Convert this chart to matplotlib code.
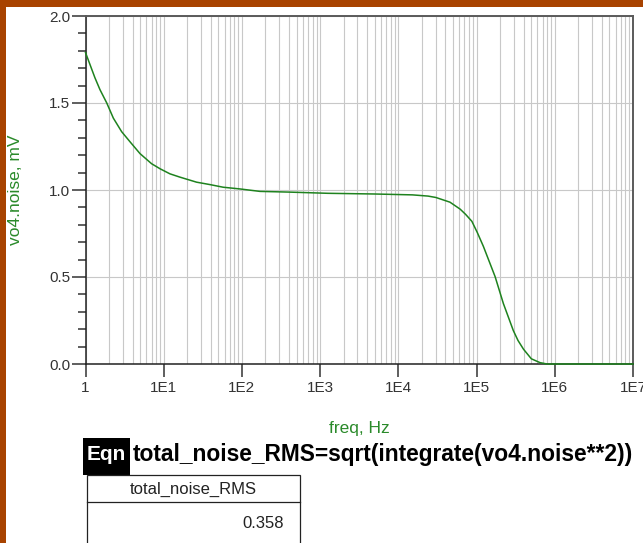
import matplotlib
matplotlib.use('Agg')
import matplotlib.pyplot as plt
from matplotlib.patches import Rectangle
from matplotlib.lines import Line2D
from matplotlib.ticker import FixedLocator, LogLocator, MultipleLocator, NullFormatter
from matplotlib import font_manager

# ---- data ----
freq_hz = [1, 1.32, 1.53, 1.87, 2.27, 2.9, 3.71, 4.98, 7.0, 8.98, 12.0, 16.1, 26.3,
           39.1, 57.5, 94.6, 170, 398, 1259, 5012, 15136, 23988, 30200, 45700,
           61660, 72400, 87100, 102300, 122200, 172600, 220300, 295100, 338800,
           398100, 501000, 645700, 794000, 1e7]
noise_mv = [1.79, 1.645, 1.577, 1.50, 1.413, 1.335, 1.277, 1.209, 1.151, 1.122,
            1.093, 1.074, 1.045, 1.031, 1.016, 1.006, 0.992, 0.988, 0.981, 0.977,
            0.972, 0.965, 0.957, 0.93, 0.89, 0.86, 0.82, 0.755, 0.676, 0.502,
            0.347, 0.192, 0.135, 0.085, 0.03, 0.008, 0.0, 0.0]
x_tick_values = [1, 1e1, 1e2, 1e3, 1e4, 1e5, 1e6, 1e7]
x_tick_labels = ["1", "1E1", "1E2", "1E3", "1E4", "1E5", "1E6", "1E7"]
y_tick_values = [0.0, 0.5, 1.0, 1.5, 2.0]
y_tick_labels = ["0.0", "0.5", "1.0", "1.5", "2.0"]
eqn_text = "total_noise_RMS=sqrt(integrate(vo4.noise**2))"
table_header = "total_noise_RMS"
table_value = "0.358"

W, H = 643, 543
fig = plt.figure(figsize=(W / 100, H / 100), dpi=100)
fig.patch.set_facecolor('white')

def fx(px):
    return px / W

def fy(py):
    return 1 - py / H

names = {f.name for f in font_manager.fontManager.ttflist}
base_font = 'Liberation Sans' if 'Liberation Sans' in names else 'DejaVu Sans'
narrow_font = 'Liberation Sans Narrow' if 'Liberation Sans Narrow' in names else base_font
plt.rcParams['font.family'] = [base_font, 'DejaVu Sans']

# orange border (left and top)
border = '#A84300'
fig.patches.append(Rectangle((0, 0), fx(6), 1, transform=fig.transFigure,
                             facecolor=border, edgecolor='none', zorder=0))
fig.patches.append(Rectangle((0, fy(7)), 1, 7 / H, transform=fig.transFigure,
                             facecolor=border, edgecolor='none', zorder=0))

green = '#1E821E'
label_green = '#2A8A2A'
tick_col = '#333333'

ax = fig.add_axes([fx(85.5), fy(364), fx(633) - fx(85.5), fy(16) - fy(364)])
ax.set_xscale('log')
ax.plot(freq_hz, noise_mv, color=green, lw=1.1, clip_on=False, zorder=5)
ax.set_xlim(1, 1e7)
ax.set_ylim(0, 2)

ax.xaxis.set_major_locator(FixedLocator(x_tick_values))
ax.set_xticklabels(x_tick_labels)
ax.xaxis.set_minor_locator(LogLocator(base=10, subs=range(2, 10), numticks=50))
ax.xaxis.set_minor_formatter(NullFormatter())
ax.yaxis.set_major_locator(FixedLocator(y_tick_values))
ax.set_yticklabels(y_tick_labels)
ax.yaxis.set_minor_locator(MultipleLocator(0.1))

ax.tick_params(axis='x', which='major', direction='out', length=9.5, width=1.1,
               color=tick_col, labelsize=11, labelcolor=tick_col, pad=3)
ax.tick_params(axis='x', which='minor', length=0)
ax.tick_params(axis='y', which='major', direction='out', length=10, width=1.1,
               color=tick_col, labelsize=11, labelcolor=tick_col, pad=1)
ax.tick_params(axis='y', which='minor', direction='out', length=5.8, width=1.1,
               color=tick_col)

ax.grid(True, which='both', axis='x', color='#C8C8C8', lw=0.8)
ax.grid(True, which='major', axis='y', color='#C8C8C8', lw=0.8)
ax.set_axisbelow(True)

for s in ['left', 'bottom']:
    ax.spines[s].set_color('#222222')
    ax.spines[s].set_linewidth(1.1)
for s in ['top', 'right']:
    ax.spines[s].set_color('#5A5A5A')
    ax.spines[s].set_linewidth(1.4)

# axis labels
fig.text(fx(16), fy(190), "vo4.noise, mV", rotation=90, color=label_green,
         fontsize=12.5, ha='center', va='center')
fig.text(fx(359), fy(428), "freq, Hz", color=label_green, fontsize=12.5,
         ha='center', va='center')

# Eqn box
fig.patches.append(Rectangle((fx(83), fy(475)), fx(130) - fx(83), (475 - 438) / H,
                             transform=fig.transFigure, facecolor='black',
                             edgecolor='none'))
fig.text(fx(106.5), fy(455), "Eqn", color='white', fontweight='bold',
         fontsize=15, ha='center', va='center', family=[narrow_font, 'DejaVu Sans'])

t = fig.text(fx(133), fy(455), eqn_text, color='black', fontweight='bold',
             fontsize=15, ha='left', va='center', family=[narrow_font, 'DejaVu Sans'])
fig.canvas.draw()
r = fig.canvas.get_renderer()
wpx = t.get_window_extent(r).width
t.set_fontsize(15 * 503 / wpx)

# table
fig.patches.append(Rectangle((fx(87), fy(560)), fx(300) - fx(87), (560 - 475) / H,
                             transform=fig.transFigure, facecolor='none',
                             edgecolor='#222222', lw=0.9))
fig.lines.append(Line2D([fx(87), fx(300)], [fy(502), fy(502)],
                        transform=fig.transFigure, color='#222222', lw=0.9))
fig.text(fx(193.5), fy(489), table_header, color='#222222', fontsize=12,
         ha='center', va='center')
fig.text(fx(284), fy(524), table_value, color='#222222', fontsize=12,
         ha='right', va='center')

fig.savefig('out.png', dpi=100)
